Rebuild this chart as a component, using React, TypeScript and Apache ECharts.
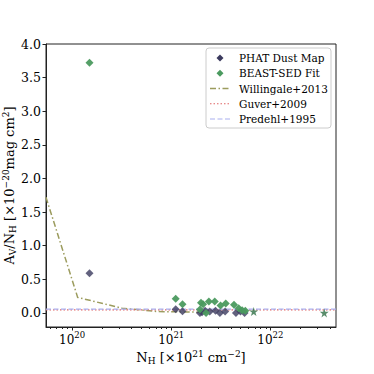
import React, { useEffect, useRef } from "react";
import * as echarts from "echarts";

const FONT = "'DejaVu Serif', 'Liberation Serif', serif";

// x-axis limits (N_H, cm^-2) and y-axis limits
const X_MIN = 5.46e19;
const X_MAX = 4.6e22;
const Y_MIN = -0.21;
const Y_MAX = 4.0;

const xMajorTicks = [1e20, 1e21, 1e22];
const xMinorTicks = [
  6e19, 7e19, 8e19, 9e19,
  2e20, 3e20, 4e20, 5e20, 6e20, 7e20, 8e20, 9e20,
  2e21, 3e21, 4e21, 5e21, 6e21, 7e21, 8e21, 9e21,
  2e22, 3e22, 4e22,
];
const yTicks = [0, 0.5, 1.0, 1.5, 2.0, 2.5, 3.0, 3.5, 4.0];

// PHAT Dust Map
const phatNH = [1.5e20, 1.11e21, 1.3e21, 1.95e21, 2.05e21, 2.2e21, 2.45e21, 2.8e21, 3.1e21, 3.5e21, 4.5e21, 5.0e21, 5.5e21];
const phatRatio = [0.59, 0.055, 0.025, 0.0, 0.01, 0.03, 0.02, 0.03, 0.0, 0.02, 0.0, 0.02, 0.0];

// BEAST-SED Fit
const beastNH = [1.5e20, 1.11e21, 1.3e21, 1.95e21, 2.0e21, 2.1e21, 2.25e21, 2.4e21, 2.75e21, 3.15e21, 3.55e21, 4.3e21, 4.8e21, 5.2e21, 5.6e21];
const beastRatio = [3.72, 0.21, 0.13, 0.05, 0.15, 0.13, 0.0, 0.17, 0.17, 0.11, 0.14, 0.12, 0.07, 0.04, 0.03];

// star markers (unlabelled)
const starNH = [6.8e21, 3.5e22];
const starRatio = [0.02, 0.0];

// Willingale+2013 curve
const willNH = [5.46e19, 1.14e20, 3.2e20, 7.3e20, 2.0e21];
const willRatio = [1.72, 0.23, 0.07, 0.02, 0.01];

// constant relations
const guverRatio = 0.045;
const predehlRatio = 0.056;

const legendNames = ["PHAT Dust Map", "BEAST-SED Fit", "Willingale+2013", "Guver+2009", "Predehl+1995"];

const C_PHAT = "#3b3a5e";
const C_BEAST = "#4b9a5f";
const C_STAR = "#2f7046";
const C_WILL = "#9c9c5e";
const C_GUVER = "#e06666";
const C_PRED = "#aab0f0";
const DASH_WILL = [6, 2.5, 1.5, 2.5];
const DASH_GUVER = [1.5, 2];
const DASH_PRED = [5, 2.5];

const STAR =
  "path://M0,-1L0.2245,-0.309L0.951,-0.309L0.363,0.118L0.588,0.809L0,0.382L-0.588,0.809L-0.363,0.118L-0.951,-0.309L-0.2245,-0.309Z";

const lg = (v: number) => Math.log10(v);
const zip = (a: number[], b: number[]) => a.map((v, i) => [lg(v), b[i]]);

export default function App() {
  const ref = useRef<HTMLDivElement>(null);
  useEffect(() => {
    if (!ref.current) return;
    const chart = echarts.init(ref.current, null, { renderer: "svg" });
    const base = { fontFamily: FONT, color: "#000" };
    const richTitle = {
      n: { ...base, fontSize: 13, lineHeight: 18, verticalAlign: "middle" },
      sub: { ...base, fontSize: 9, lineHeight: 9, verticalAlign: "bottom", padding: [0, 0, 1, 0] },
      sup: { ...base, fontSize: 9, lineHeight: 9, verticalAlign: "top", padding: [1, 0, 0, 0] },
    };
    const richTitleG = {
      n: { fontFamily: FONT, fill: "#000", fontSize: 13, lineHeight: 18, verticalAlign: "middle" },
      sub: { fontFamily: FONT, fill: "#000", fontSize: 9, lineHeight: 9, verticalAlign: "bottom", padding: [0, 0, 1, 0] },
      sup: { fontFamily: FONT, fill: "#000", fontSize: 9, lineHeight: 9, verticalAlign: "top", padding: [1, 0, 0, 0] },
    };

    // legend drawn as graphics
    const LX = 206, LY = 48, LW = 125, LH = 80, ROW0 = 58, ROWH = 15.25;
    const els: any[] = [
      {
        type: "rect",
        shape: { x: LX, y: LY, width: LW, height: LH, r: 3 },
        style: { fill: "rgba(255,255,255,0.8)", stroke: "#cccccc", lineWidth: 1 },
        z: 10,
      },
    ];
    legendNames.forEach((name, i) => {
      const cy = ROW0 + i * ROWH;
      if (i < 2) {
        els.push({
          type: "polygon",
          shape: { points: [[220, cy - 3.5], [223.5, cy], [220, cy + 3.5], [216.5, cy]] },
          style: { fill: i === 0 ? C_PHAT : C_BEAST },
          z: 11,
        });
      } else {
        const stroke = i === 2 ? C_WILL : i === 3 ? C_GUVER : C_PRED;
        const dash = i === 2 ? DASH_WILL : i === 3 ? DASH_GUVER : DASH_PRED;
        els.push({
          type: "line",
          shape: { x1: 210, y1: cy, x2: 230, y2: cy },
          style: { stroke, lineWidth: i === 2 ? 1.5 : 1.2, lineDash: dash },
          z: 11,
        });
      }
      els.push({
        type: "text",
        x: 239,
        y: cy,
        style: { text: name, fontFamily: FONT, fontSize: 10.5, fill: "#000", verticalAlign: "middle", align: "left" },
        z: 11,
      });
    });
    // x-axis title
    els.push({
      type: "text",
      x: 191,
      y: 357,
      style: {
        text: "{n|N}{sub|H}{n| [×10}{sup|21}{n| cm}{sup|−2}{n|]}",
        rich: richTitleG,
        align: "center",
        verticalAlign: "middle",
        fontFamily: FONT,
        fontSize: 13,
      },
      z: 11,
    });

    chart.setOption({
      animation: false,
      backgroundColor: "#fff",
      textStyle: { fontFamily: FONT },
      grid: {
        left: 46,
        right: 38,
        top: 44,
        bottom: 47,
        containLabel: false,
        outerBoundsMode: "none",
        show: true,
        borderColor: "#222",
        borderWidth: 1,
        backgroundColor: "transparent",
      },
      graphic: els,
      xAxis: [
        {
          type: "value",
          min: lg(X_MIN),
          max: lg(X_MAX),
          splitLine: { show: false },
          axisLine: { show: true, onZero: false, lineStyle: { color: "#222", width: 1 } },
          axisTick: { show: true, length: 3.5, lineStyle: { color: "#222" }, customValues: xMajorTicks.map(lg) },
          axisLabel: {
            customValues: xMajorTicks.map(lg),
            margin: 3,
            formatter: (v: number) => `{b|10}{s|${Math.round(v)}}`,
            rich: {
              b: { ...base, fontSize: 12, lineHeight: 16, verticalAlign: "bottom" },
              s: { ...base, fontSize: 8.5, lineHeight: 10, verticalAlign: "top" },
            },
          },
        },
        {
          type: "value",
          min: lg(X_MIN),
          max: lg(X_MAX),
          position: "bottom",
          splitLine: { show: false },
          axisLine: { show: false, onZero: false },
          axisTick: { show: true, length: 2, lineStyle: { color: "#222" }, customValues: xMinorTicks.map(lg) },
          axisLabel: { show: false },
        },
      ],
      yAxis: {
        type: "value",
        min: Y_MIN,
        max: Y_MAX,
        splitLine: { show: false },
        axisLine: { show: true, onZero: false, lineStyle: { color: "#222", width: 1 } },
        axisTick: { show: true, length: 3.5, lineStyle: { color: "#222" }, customValues: yTicks },
        axisLabel: {
          customValues: yTicks,
          margin: 5,
          ...base,
          fontSize: 12.5,
          formatter: (v: number) => v.toFixed(1),
        },
        name: "{n|A}{sub|V}{n|/N}{sub|H}{n| [×10}{sup|−20}{n|mag cm}{sup|2}{n|]}",
        nameLocation: "middle",
        nameGap: 28,
        nameMoveOverlap: false,
        nameTextStyle: { rich: richTitle },
      },
      series: [
        {
          name: "Willingale+2013",
          type: "line",
          data: zip(willNH, willRatio),
          symbol: "none",
          lineStyle: { color: C_WILL, width: 1.5, type: DASH_WILL },
          z: 2,
        },
        {
          name: "Guver+2009",
          type: "line",
          data: [[lg(X_MIN), guverRatio], [lg(X_MAX), guverRatio]],
          symbol: "none",
          lineStyle: { color: C_GUVER, width: 1.2, type: DASH_GUVER },
          z: 2,
        },
        {
          name: "Predehl+1995",
          type: "line",
          data: [[lg(X_MIN), predehlRatio], [lg(X_MAX), predehlRatio]],
          symbol: "none",
          lineStyle: { color: C_PRED, width: 1.2, type: DASH_PRED },
          z: 2,
        },
        {
          name: "PHAT Dust Map",
          type: "scatter",
          data: zip(phatNH, phatRatio),
          symbol: "diamond",
          symbolSize: 8,
          itemStyle: { color: C_PHAT },
          z: 3,
        },
        {
          name: "BEAST-SED Fit",
          type: "scatter",
          data: zip(beastNH, beastRatio),
          symbol: "diamond",
          symbolSize: 8,
          itemStyle: { color: C_BEAST, opacity: 0.95 },
          z: 4,
        },
        {
          name: "stars",
          type: "scatter",
          data: zip(starNH, starRatio),
          symbol: STAR,
          symbolSize: 9,
          itemStyle: { color: C_STAR },
          z: 4,
        },
      ],
    });
    return () => chart.dispose();
  }, []);
  return <div ref={ref} style={{ width: 374, height: 374, position: "absolute", left: 0, top: 0 }} />;
}
